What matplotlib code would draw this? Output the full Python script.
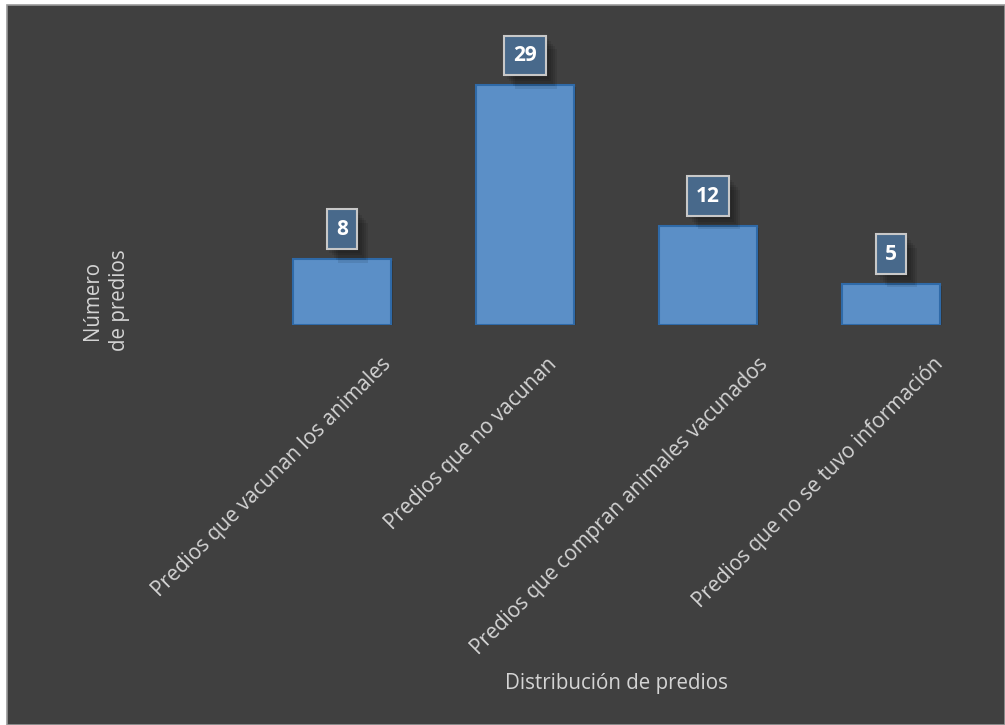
import matplotlib
matplotlib.use("Agg")
import matplotlib.pyplot as plt
import matplotlib.patheffects as pe
from matplotlib.patches import Rectangle
import numpy as np

categories = [
    "Predios que vacunan los animales",
    "Predios que no vacunan",
    "Predios que compran animales vacunados",
    "Predios que no se tuvo información",
]
values = [8, 29, 12, 5]
x_title = "Distribución de predios"
y_title = "Número\nde predios"

BG = "#404040"
TXT = "#d4d4d4"
BAR = "#5b8fc7"
BAR_EDGE = "#2f6aa8"
BOX = "#48698b"

plt.rcParams['font.family'] = ['Open Sans', 'DejaVu Sans']

fig = plt.figure(figsize=(10.05, 7.25), dpi=100)
fig.patch.set_facecolor("white")
W, H = 1005, 725
# chart area background with thin border
fig.patches.append(Rectangle((7 / W, 0), 1 - 7 / W, 1 - 5 / H, transform=fig.transFigure,
                             facecolor=BG, edgecolor="#9a9a9a", linewidth=1.2, zorder=-10))

ax = fig.add_axes([250.5 / W, 1 - 325 / H, 732 / W, (325 - 43.5) / H])
ax.set_zorder(5)
ax.set_facecolor("none")
x = np.arange(len(categories))
bars = ax.bar(x, values, width=0.535, color=BAR, edgecolor=BAR_EDGE, linewidth=1.5, zorder=2)
for b in bars:
    b.set_path_effects([pe.SimplePatchShadow(offset=(1.5, -1.5), shadow_rgbFace="black", alpha=0.15), pe.Normal()])
ax.set_xlim(-0.5, len(categories) - 0.5)
ax.set_ylim(0, 34)
for s in ax.spines.values():
    s.set_visible(False)
ax.set_xticks([])
ax.set_yticks([])

# soft (blurred-looking) shadow for the value boxes
box_shadow = [pe.SimplePatchShadow(offset=(o, -o * 1.2), shadow_rgbFace="black", alpha=0.09)
              for o in (2, 3.5, 5, 6.5, 8)] + [pe.Normal()]

# value labels
for xi, v in zip(x, values):
    t = ax.annotate(str(v), xy=(xi, v), xytext=(0, 21.2), textcoords="offset points",
                    ha="center", va="center", color="white", fontsize=15, fontweight="bold",
                    bbox=dict(boxstyle="square,pad=0.45", facecolor=BOX, edgecolor="#c8c8c8", linewidth=1.5),
                    zorder=5)
    t.get_bbox_patch().set_path_effects(box_shadow)

# rotated category labels
for xi, lab in zip(x, categories):
    dx_px = 1.74 * len(lab) - 17
    ax.annotate(lab, xy=(xi, 0), xycoords="data", xytext=(dx_px * 0.72, -29 * 0.72),
                textcoords="offset points", rotation=45, rotation_mode="anchor",
                ha="right", va="top", color=TXT, fontsize=15, annotation_clip=False)

fig.text(616 / W, 1 - 683 / H, x_title, ha="center", va="center", color=TXT, fontsize=14.8)
fig.text(106 / W, 1 - 300 / H, y_title, ha="center", va="center", color=TXT, fontsize=14.8,
         rotation=90, multialignment="center", linespacing=1.4)

fig.savefig("out.png", dpi=100, facecolor=fig.get_facecolor())
